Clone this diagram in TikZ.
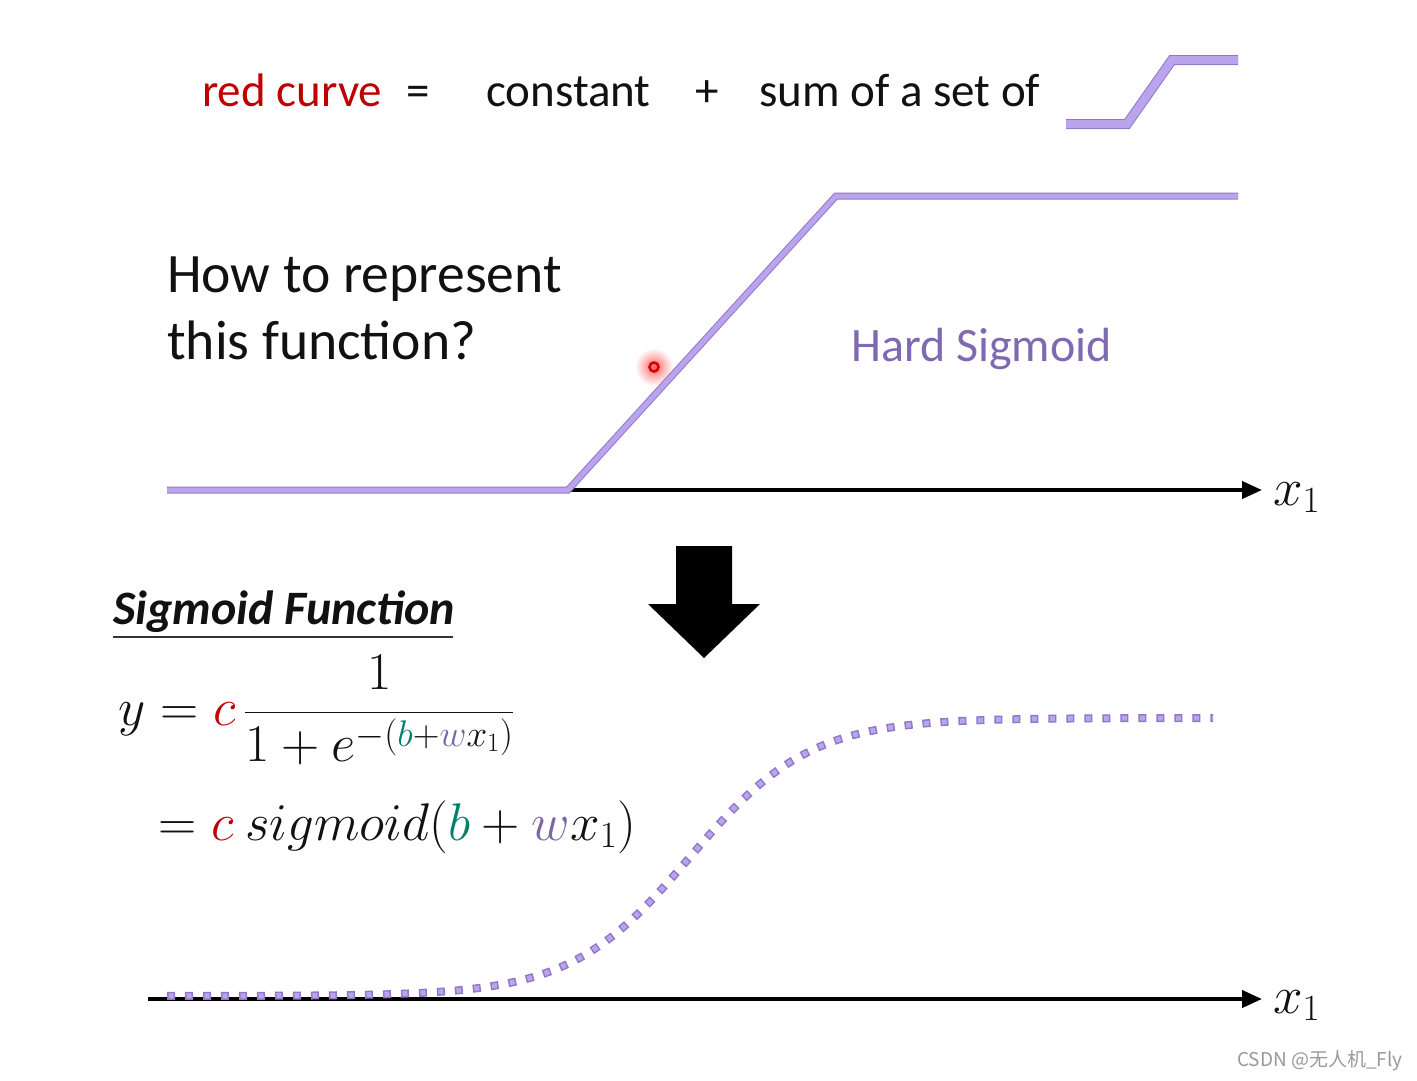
\RequirePackage{fix-cm}
\documentclass[tikz,border=0pt]{standalone}
\usepackage[no-math]{fontspec}
\setmainfont{Carlito}
\newfontfamily\cjkfont{Noto Sans CJK SC}
\usetikzlibrary{arrows.meta}
\definecolor{lavfill}{HTML}{BBA3EE}
\definecolor{lavedge}{HTML}{8E79C6}
\definecolor{hardtxt}{HTML}{7E69B2}
\definecolor{cred}{HTML}{C00000}
\definecolor{cteal}{HTML}{00806E}
\definecolor{cw}{HTML}{7A66A8}
\definecolor{ink}{HTML}{111111}
\tikzset{
  txt/.style={inner sep=0pt, anchor=base west, text=ink},
  toptxt/.style={txt, font=\fontsize{47}{56}\selectfont},
  bigtxt/.style={txt, font=\fontsize{55.6}{66}\selectfont},
  mathtxt/.style={txt, font=\fontsize{53}{63}\selectfont},
  band/.style={draw=lavedge, line width=1pt, double=lavfill, double distance=#1, line join=miter},
  axis/.style={draw=black, line width=4pt, -{Triangle[length=20pt,width=17pt]}},
}
\begin{document}
\begin{tikzpicture}[x=1pt,y=-1pt]
\useasboundingbox[fill=white] (0,0) rectangle (1417,1080);

% top line
\node[toptxt, text=cred] (red) at (202,106) {red curve};
\node[toptxt] (eqa) at (406,106) {=};
\node[toptxt] (const) at (486,106) {constant};
\node[toptxt] (plus) at (695,106) {+};
\node[toptxt] (sum) at (759,106) {sum of a set of};

% small hard sigmoid icon
\coordinate (i1) at (1066,124);
\coordinate (i2) at (1127,124);
\coordinate (i3) at (1172,60);
\coordinate (i4) at (1238,60);
\draw[band=8pt] (i1) -- (i2) -- (i3) -- (i4);

% question
\node[bigtxt] (q1) at (167,292) {How to represent};
\node[bigtxt] (q2) at (167,359) {this function?};
\node[txt, text=hardtxt, font=\fontsize{48}{58}\selectfont] (hs) at (851,361) {Hard Sigmoid};

% red pointer glow (behind the curve)
\coordinate (dot) at (654,367);
\shade[inner color=red!60, outer color=white] (dot) circle (19pt);

% upper axis
\coordinate (a0) at (568,490);
\coordinate (a1) at (1262,490);
\draw[axis] (a0) -- (a1);
\node[mathtxt] (xa) at (1273,505) {$x_1$};

% hard sigmoid
\coordinate (h0) at (167,490);
\coordinate (h1) at (568,490);
\coordinate (h2) at (836,196);
\coordinate (h3) at (1238,196);
\draw[band=5pt] (h0) -- (h1) -- (h2) -- (h3);

% red pointer ring
\draw[draw=red!85!black, line width=2.6pt] (dot) circle (4.5pt);

% down block arrow
\fill[black] (676,546) -- (732,546) -- (732,604) -- (760,604) -- (704,658) -- (648,604) -- (676,604) -- cycle;

% sigmoid function heading
\node[txt, font=\fontsize{48}{58}\bfseries\itshape] (sf) at (113,624) {Sigmoid Function};
\coordinate (u0) at (113,637);
\coordinate (u1) at (453,637);
\draw[line width=1.6pt, draw=black!80] (u0) -- (u1);

% formulas
\node[mathtxt] (eq1) at (118,725) {$\displaystyle y = {\color{cred}c}\,\frac{1}{1+e^{-({\color{cteal}b}+{\color{cw}w}x_1)}}$};
\node[mathtxt] (eq2) at (158,840) {$= {\color{cred}c}\ sigmoid({\color{cteal}b} + {\color{cw}w}x_1)$};

% lower axis
\coordinate (b0) at (148,999);
\coordinate (b1) at (1262,999);
\draw[axis] (b0) -- (b1);
\node[mathtxt] (xb) at (1273,1013) {$x_1$};

% dotted sigmoid
\draw[draw=lavedge, line width=8pt, dash pattern=on 8pt off 10pt]
  plot[domain=167:1213, samples=120, smooth] (\x, {996 - 278/(1+exp(-(\x-690)/60))});
\draw[draw=lavfill, line width=5pt, dash pattern=on 5pt off 13pt, dash phase=16.5pt]
  plot[domain=167:1213, samples=120, smooth] (\x, {996 - 278/(1+exp(-(\x-690)/60))});

% watermark
\node[txt, text=black!40, font=\cjkfont\fontsize{19}{22}\selectfont] (wm) at (1237,1066) {CSDN @无人机\_Fly};
\end{tikzpicture}
\end{document}
